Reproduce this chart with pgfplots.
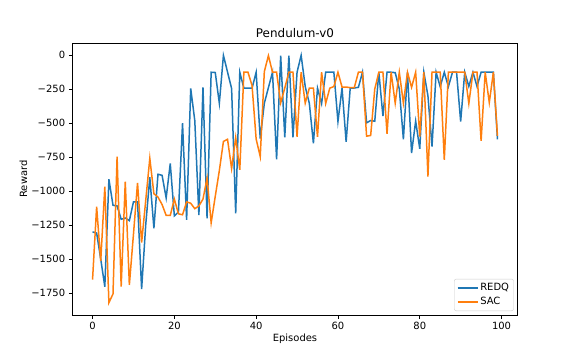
\documentclass[border=0pt]{standalone}
\usepackage{fontspec}
\setmainfont{DejaVu Sans}
\usepackage{pgfplots}
\pgfplotsset{compat=1.18}
\definecolor{c0}{HTML}{1F77B4}
\definecolor{c1}{HTML}{FF7F0E}
\definecolor{legframe}{HTML}{CCCCCC}
\pgfplotstableread{
i redq sac
0 -1301 -1652
1 -1309 -1115
2 -1500 -1515
3 -1704 -968
4 -914 -1821
5 -1105 -1757
6 -1110 -748
7 -1208 -1704
8 -1199 -931
9 -1218 -1691
10 -1081 -1320
11 -1081 -940
12 -1721 -1380
13 -1250 -1070
14 -899 -760
15 -1274 -1020
16 -877 -1045
17 -885 -1100
18 -1051 -1180
19 -798 -1180
20 -1183 -1060
21 -1155 -1168
22 -502 -1175
23 -1212 -1080
24 -246 -1090
25 -483 -1130
26 -1178 -1110
27 -238 -1060
28 -1202 -905
29 -127 -1234
30 -129 -1040
31 -355 -850
32 -3 -636
33 -125 -620
34 -247 -835
35 -1165 -607
36 -127 -845
37 -244 -127
38 -244 -127
39 -244 -225
40 -127 -618
41 -615 -747
42 -355 -122
43 -240 -5
44 -127 -127
45 -768 -127
46 -5 -352
47 -605 -243
48 -5 -127
49 -605 -127
50 -127 -601
51 -3 -127
52 -232 -354
53 -355 -244
54 -650 -244
55 -244 -602
56 -358 -127
57 -127 -357
58 -127 -244
59 -127 -232
60 -489 -127
61 -243 -236
62 -639 -236
63 -243 -240
64 -243 -240
65 -238 -127
66 -127 -127
67 -499 -597
68 -482 -592
69 -487 -250
70 -127 -127
71 -450 -127
72 -127 -580
73 -127 -127
74 -130 -354
75 -250 -127
76 -620 -354
77 -130 -127
78 -721 -238
79 -486 -127
80 -690 -600
81 -127 -127
82 -300 -894
83 -673 -127
84 -127 -127
85 -233 -127
86 -127 -771
87 -233 -127
88 -127 -127
89 -127 -127
90 -489 -127
91 -127 -127
92 -231 -357
93 -127 -127
94 -231 -127
95 -127 -632
96 -127 -127
97 -127 -350
98 -127 -127
99 -620 -595
}\datatable
\begin{document}
\begin{tikzpicture}[x=1bp,y=1bp]
\path[use as bounding box] (-72.3,-45) rectangle (503.7,315);
\begin{axis}[
  at={(0,0)}, anchor=south west,
  width=445.4bp, height=272bp, scale only axis,
  xmin=-4.95, xmax=103.95, ymin=-1912, ymax=88,
  axis line style={line width=0.8bp},
  tick pos=left, tick align=outside,
  major tick length=3.5bp,
  every tick/.style={black, line width=0.8bp},
  /pgf/number format/assume math mode=true,
  xtick={0,20,40,60,80,100},
  ytick={-1750,-1500,-1250,-1000,-750,-500,-250,0},
  yticklabels={−1750,−1500,−1250,−1000,−750,−500,−250,0},
  every tick label/.append style={font=\fontsize{10}{12}\selectfont, inner sep=0pt},
  xticklabel style={yshift=-3.5bp},
  yticklabel style={xshift=-3.5bp},
  title={Pendulum-v0},
  title style={font=\fontsize{12}{14}\selectfont, inner sep=0pt, yshift=-1bp},
  xlabel={Episodes},
  ylabel={Reward},
  label style={font=\fontsize{10}{12}\selectfont},
  xlabel style={inner sep=0pt, yshift=-4bp},
  ylabel style={inner sep=0pt, yshift=4bp},
  legend cell align=left,
  legend style={at={(1,0)}, anchor=south east, xshift=-4bp, yshift=4bp,
    draw=legframe, rounded corners=2bp,
    fill=white, font=\fontsize{10}{12}\selectfont, inner sep=2.5bp, row sep=1bp},
  legend image code/.code={\draw[#1] (0bp,0bp) -- (20bp,0bp);},
]
\addplot[color=c0, line width=1.5bp] table[x=i, y=redq] {\datatable};
\addlegendentry{REDQ}
\addplot[color=c1, line width=1.5bp] table[x=i, y=sac] {\datatable};
\addlegendentry{SAC}
\end{axis}
\end{tikzpicture}
\end{document}
